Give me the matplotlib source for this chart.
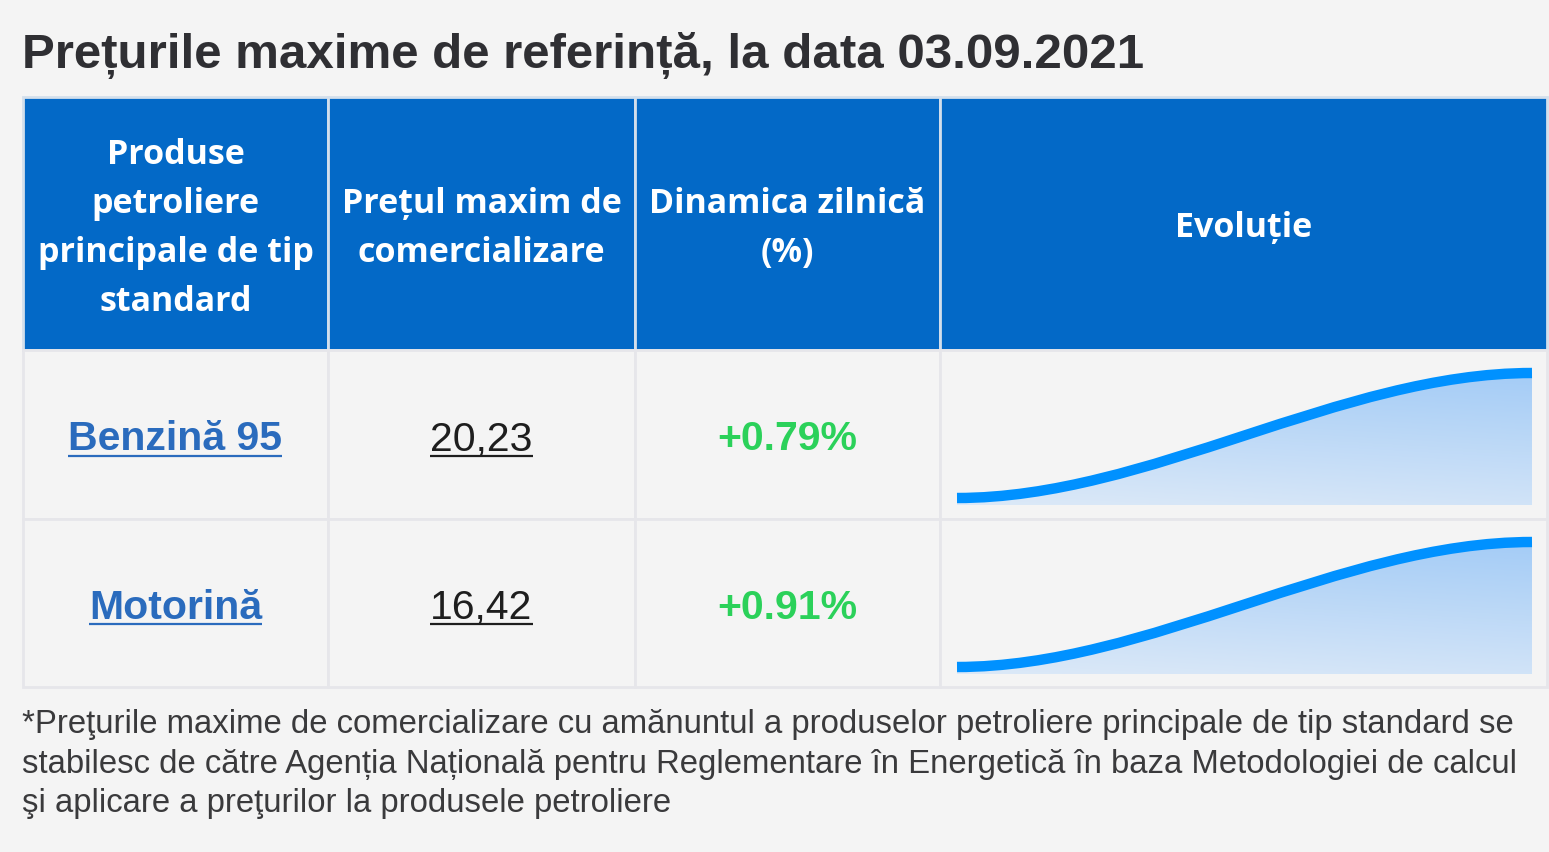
import numpy as np
import matplotlib
matplotlib.use('Agg')
import matplotlib.pyplot as plt
from matplotlib.patches import Rectangle, PathPatch
from matplotlib.path import Path
from matplotlib.colors import LinearSegmentedColormap

title = 'Prețurile maxime de referință, la data 03.09.2021'
headers = ['Produse\npetroliere\nprincipale de tip\nstandard',
           'Prețul maxim de\ncomercializare',
           'Dinamica zilnică\n(%)',
           'Evoluție']
products = ['Benzină 95', 'Motorină']
prices = [20.23, 16.42]
changes = [0.79, 0.91]
# price of the previous day (start of the sparkline)
prev_prices = [20.07, 16.27]
footnote = ('*Preţurile maxime de comercializare cu amănuntul a produselor petroliere principale de tip standard se\n'
            'stabilesc de către Agenția Națională pentru Reglementare în Energetică în baza Metodologiei de calcul\n'
            'şi aplicare a preţurilor la produsele petroliere')

W, H = 1549, 852
BG = '#f4f4f4'
HEAD = '#0369c7'
GRID = '#e6e6ea'
LINK = '#2a6bbd'
GREEN = '#2bd15a'
LINE = '#0091ff'
SANS = ['Liberation Sans', 'DejaVu Sans']

col_x = [23, 328, 635, 940, 1547]
head_y = (97, 350)
row_y = [(350, 519), (519, 687)]

fig = plt.figure(figsize=(W / 100, H / 100), dpi=100, facecolor=BG)
ax = fig.add_axes([0, 0, 1, 1])
ax.set_xlim(0, W)
ax.set_ylim(H, 0)
ax.axis('off')

# title
ax.text(22, 68, title, fontsize=35.5, fontweight='bold', color='#2f2f33',
        family=SANS, va='baseline', ha='left')

# header cells
for i in range(4):
    ax.add_patch(Rectangle((col_x[i], head_y[0]), col_x[i + 1] - col_x[i], head_y[1] - head_y[0],
                           facecolor=HEAD, edgecolor='#d3dfec', lw=2))
    ax.text((col_x[i] + col_x[i + 1]) / 2, (head_y[0] + head_y[1]) / 2 + 5, headers[i],
            color='white', fontsize=24.5, fontweight='bold', ha='center', va='center',
            family=['Open Sans', 'DejaVu Sans'], linespacing=1.57)

# body cells
for r, (y0, y1) in enumerate(row_y):
    for i in range(4):
        ax.add_patch(Rectangle((col_x[i], y0), col_x[i + 1] - col_x[i], y1 - y0,
                               facecolor=BG, edgecolor=GRID, lw=2))

fig.canvas.draw()
renderer = fig.canvas.get_renderer()


def underlined(x, y, s, **kw):
    t = ax.text(x, y, s, ha='center', va='center', **kw)
    bb = t.get_window_extent(renderer).transformed(ax.transData.inverted())
    ax.plot([bb.x0, bb.x1], [y + 16, y + 16], color=kw.get('color'), lw=1.6,
            solid_capstyle='butt')
    return t


for r, (y0, y1) in enumerate(row_y):
    yc = (y0 + y1) / 2 + 5
    underlined((col_x[0] + col_x[1]) / 2, yc, products[r], color=LINK, fontsize=29.5,
               fontweight='bold', family=SANS)
    underlined((col_x[1] + col_x[2]) / 2, yc, f'{prices[r]:.2f}'.replace('.', ','),
               color='#1e1e1e', fontsize=29.5, family=SANS)
    ax.text((col_x[2] + col_x[3]) / 2, yc, f'+{changes[r]:.2f}%', color=GREEN, fontsize=29.5,
            fontweight='bold', ha='center', va='center', family=SANS)

# sparklines
grad_cmap = LinearSegmentedColormap.from_list('g', ['#dce9f8', '#a4ccf6'])
gy, gx = np.mgrid[0:1:100j, 0:1:100j]
grad = 0.8 * gy + 0.2 * gx

for r, (y0, y1) in enumerate(row_y):
    top_px, bot_px = y0 + 23, y0 + 155
    sx = fig.add_axes([957 / W, 1 - bot_px / H, (1532 - 957) / W, (bot_px - top_px) / H])
    sx.axis('off')
    a, b = prev_prices[r], prices[r]
    lo = a - (b - a) * 0.056
    sx.set_xlim(0, 1)
    sx.set_ylim(lo, b)
    verts = [(0, a), (1 / 3, a), (2 / 3, b), (1, b)]
    codes = [Path.MOVETO, Path.CURVE4, Path.CURVE4, Path.CURVE4]
    area = Path(verts + [(1, lo), (0, lo), (0, a)],
                codes + [Path.LINETO, Path.LINETO, Path.CLOSEPOLY])
    clip = PathPatch(area, facecolor='none', edgecolor='none', transform=sx.transData)
    sx.add_patch(clip)
    im = sx.imshow(grad, cmap=grad_cmap, extent=(0, 1, lo, b), origin='lower',
                   aspect='auto', interpolation='bilinear')
    im.set_clip_path(clip)
    sx.add_patch(PathPatch(Path(verts, codes), facecolor='none', edgecolor=LINE,
                           lw=7.5, capstyle='butt', clip_on=False))

# footnote
ax.text(22, 709, footnote, fontsize=23.7, color='#3a3a3c', ha='left', va='top',
        family=SANS, linespacing=1.36)

fig.savefig('out.png', dpi=100, facecolor=BG)
